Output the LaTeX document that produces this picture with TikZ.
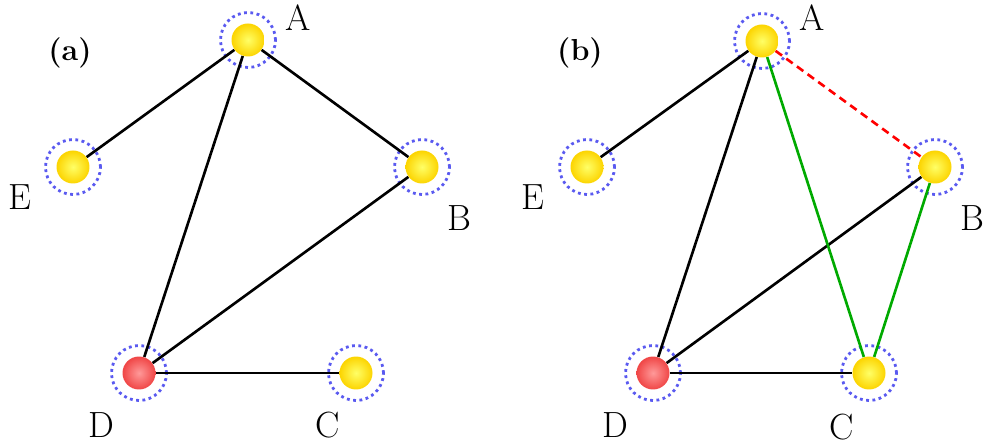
\documentclass[tikz,border=0pt]{standalone}
\usetikzlibrary{positioning}
\definecolor{goldball}{RGB}{252,212,0}
\definecolor{redball}{RGB}{240,70,70}
\definecolor{ringblue}{RGB}{90,90,240}
\definecolor{edgegreen}{RGB}{0,170,0}
\begin{document}
\begin{tikzpicture}[
  x=0.02cm,y=-0.02cm,
  ball/.style={circle, inner sep=0pt, minimum size=0.66cm, shading=radial},
  yball/.style={ball, inner color=yellow!60!white, outer color=goldball},
  rball/.style={ball, inner color=red!40!white, outer color=redball},
  ring/.style={circle, draw=ringblue, line width=1.6pt, dash pattern=on 1.6pt off 2pt, minimum size=1.1cm, inner sep=0pt},
  lbl/.style={font=\huge},
  tag/.style={font=\LARGE\bfseries},
  edge/.style={line width=1.5pt},
  good/.style={edge, edgegreen},
  bad/.style={edge, red, dash pattern=on 4.5pt off 3pt}
]
\useasboundingbox (0,0) rectangle (984,445);

% (a)
\node[tag] (la) at (70,53) {(a)};
\node[ring] (Ar) at (248,40) {};
\node[ring] (Er) at (73,167) {};
\node[ring] (Br) at (422,167) {};
\node[ring] (Dr) at (139,373) {};
\node[ring] (Cr) at (356,373) {};
\node[yball] (A) at (Ar) {};
\node[yball] (E) at (Er) {};
\node[yball] (B) at (Br) {};
\node[rball] (D) at (Dr) {};
\node[yball] (C) at (Cr) {};
\node[lbl] (tA) at (298,18) {A};
\node[lbl] (tE) at (20,197) {E};
\node[lbl] (tB) at (459,218) {B};
\node[lbl] (tD) at (101,425) {D};
\node[lbl] (tC) at (328,425) {C};
\draw[edge] (A) -- (E);
\draw[edge] (A) -- (B);
\draw[edge] (A) -- (D);
\draw[edge] (B) -- (D);
\draw[edge] (D) -- (C);

% (b)
\node[tag] (lb) at (580,53) {(b)};
\node[ring] (Ar2) at (762,41) {};
\node[ring] (Er2) at (587,167) {};
\node[ring] (Br2) at (935,167) {};
\node[ring] (Dr2) at (653,373) {};
\node[ring] (Cr2) at (869,373) {};
\node[yball] (A2) at (Ar2) {};
\node[yball] (E2) at (Er2) {};
\node[yball] (B2) at (Br2) {};
\node[rball] (D2) at (Dr2) {};
\node[yball] (C2) at (Cr2) {};
\node[lbl] (tA2) at (812,18) {A};
\node[lbl] (tE2) at (533,197) {E};
\node[lbl] (tB2) at (972,218) {B};
\node[lbl] (tD2) at (615,425) {D};
\node[lbl] (tC2) at (842,427) {C};
\draw[edge] (A2) -- (E2);
\draw[edge] (A2) -- (D2);
\draw[edge] (B2) -- (D2);
\draw[edge] (D2) -- (C2);
\draw[good] (A2) -- (C2);
\draw[good] (B2) -- (C2);
\draw[bad] (A2) -- (B2);
\end{tikzpicture}
\end{document}
